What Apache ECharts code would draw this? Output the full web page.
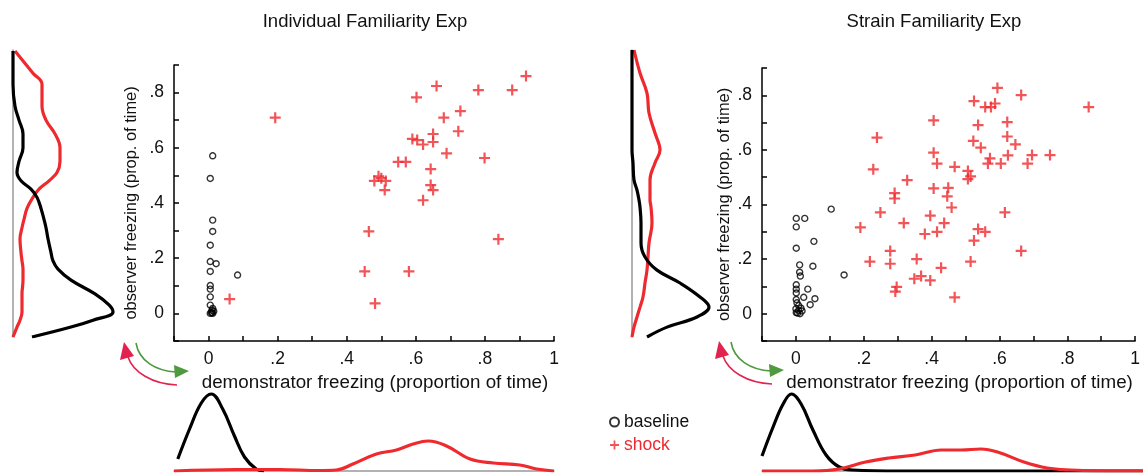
<!DOCTYPE html>
<html>
<head>
<meta charset="utf-8">
<script src="https://cdn.jsdelivr.net/npm/echarts@6/dist/echarts.min.js"></script>
<style>
html, body { margin: 0; padding: 0; background: #fff; }
#chart { width: 1143px; height: 473px; }
</style>
</head>
<body>
<div id="chart"></div>
<script>
// * scatter points
const leftBaseX = [0.012, 0.005, 0.012, 0.012, 0.005, 0.005, 0.022, 0.005, 0.084, 0.005, 0.005, 0.005, 0.005, 0.012, 0.01, 0.015, 0.008, 0.005, 0.012, 0.01];
const leftBaseY = [0.571, 0.489, 0.338, 0.297, 0.247, 0.188, 0.18, 0.152, 0.139, 0.101, 0.088, 0.06, 0.03, 0.018, 0.012, 0.008, 0.004, 0.0, 0.0, 0.002];
const leftShockX = [0.919, 0.66, 0.781, 0.879, 0.602, 0.193, 0.681, 0.729, 0.723, 0.65, 0.59, 0.604, 0.621, 0.65, 0.689, 0.799, 0.549, 0.571, 0.643, 0.492, 0.48, 0.513, 0.5, 0.51, 0.643, 0.65, 0.621, 0.464, 0.839, 0.452, 0.58, 0.061, 0.482];
const leftShockY = [0.86, 0.824, 0.809, 0.809, 0.783, 0.709, 0.709, 0.733, 0.66, 0.65, 0.632, 0.628, 0.612, 0.621, 0.58, 0.563, 0.549, 0.549, 0.523, 0.497, 0.48, 0.48, 0.49, 0.447, 0.465, 0.447, 0.41, 0.297, 0.269, 0.152, 0.152, 0.052, 0.036];

const rightBaseX = [0.001, 0.026, 0.001, 0.104, 0.053, 0.001, 0.05, 0.011, 0.011, 0.013, 0.142, 0.001, 0.001, 0.035, 0.001, 0.023, 0.056, 0.001, 0.042, 0.008, 0.0, 0.008, 0.018, 0.001, 0.012, 0.005, 0.015, 0.003];
const rightBaseY = [0.349, 0.349, 0.318, 0.383, 0.265, 0.24, 0.174, 0.179, 0.152, 0.138, 0.142, 0.106, 0.09, 0.09, 0.076, 0.06, 0.055, 0.052, 0.033, 0.03, 0.018, 0.012, 0.01, 0.004, 0.0, 0.002, 0.02, 0.04];
const rightShockX = [0.594, 0.664, 0.863, 0.525, 0.558, 0.575, 0.587, 0.406, 0.537, 0.623, 0.239, 0.523, 0.623, 0.647, 0.545, 0.406, 0.696, 0.749, 0.625, 0.572, 0.416, 0.566, 0.604, 0.683, 0.228, 0.468, 0.507, 0.328, 0.507, 0.515, 0.406, 0.449, 0.291, 0.291, 0.446, 0.459, 0.249, 0.616, 0.396, 0.318, 0.437, 0.19, 0.537, 0.558, 0.416, 0.38, 0.525, 0.278, 0.664, 0.218, 0.278, 0.356, 0.515, 0.428, 0.349, 0.369, 0.396, 0.297, 0.293, 0.468];
const rightShockY = [0.827, 0.801, 0.757, 0.779, 0.757, 0.757, 0.77, 0.708, 0.691, 0.702, 0.645, 0.633, 0.649, 0.62, 0.608, 0.59, 0.581, 0.581, 0.58, 0.569, 0.55, 0.55, 0.55, 0.55, 0.529, 0.538, 0.523, 0.489, 0.493, 0.503, 0.459, 0.461, 0.442, 0.422, 0.43, 0.389, 0.371, 0.371, 0.359, 0.332, 0.332, 0.316, 0.31, 0.3, 0.3, 0.292, 0.268, 0.23, 0.23, 0.191, 0.183, 0.2, 0.191, 0.168, 0.128, 0.138, 0.122, 0.098, 0.081, 0.06];

// * marginal densities (curve height in px)
const leftObsPos = [0.95, 0.87, 0.83, 0.75, 0.70, 0.65, 0.60, 0.55, 0.51, 0.48, 0.45, 0.42, 0.38, 0.34, 0.31, 0.27, 0.22, 0.19, 0.16, 0.12, 0.07, 0.03, 0.005, -0.025, -0.05, -0.086];
const leftObsBase = [0, 0, 0, 2, 6, 10, 10, 6, 4, 8, 18, 24, 28, 31, 33, 35, 38, 40, 45, 58, 82, 96, 100, 80, 58, 19];
const leftObsShock = [2, 20, 29, 29, 33, 42, 47, 47, 44, 36, 26, 20, 14, 11, 9, 7, 8, 9, 10, 10, 9, 9, 9, 7, 4, 0];

const rightObsPos = [0.967, 0.883, 0.81, 0.737, 0.664, 0.602, 0.555, 0.493, 0.456, 0.42, 0.394, 0.336, 0.263, 0.212, 0.164, 0.117, 0.066, 0.029, -0.007, -0.044, -0.08];
const rightObsBase = [0, 0, 0, 0, 0, 0, 1, 2, 5, 7, 8, 9, 9, 13, 25, 48, 68, 77, 65, 35, 15];
const rightObsShock = [2, 8, 15, 17, 23, 28, 23, 18, 18, 18, 19, 20, 17, 16, 15, 13, 11, 8, 5, 2, 0];

const leftDemBasePos = [-0.089, -0.055, -0.021, 0.008, 0.041, 0.075, 0.104, 0.138, 0.16];
const leftDemBase = [12, 42, 68, 77, 62, 35, 14, 2, 0];
const leftDemShockPos = [-0.1, 0.08, 0.206, 0.32, 0.37, 0.418, 0.486, 0.544, 0.592, 0.636, 0.689, 0.757, 0.824, 0.901, 0.95, 1.0];
const leftDemShock = [0, 1.5, 1.5, 0.5, 1, 7, 17, 21, 27, 30, 25, 12, 8, 6, 2, 0];

const rightDemBasePos = [-0.1, -0.068, -0.039, -0.015, 0.013, 0.047, 0.085, 0.123, 0.161, 0.3, 0.5, 0.7, 0.9, 1.0];
const rightDemBase = [15, 44, 67, 77, 67, 41, 16, 4, 1, 0, 0, 0, 0, 0];
const rightDemShockPos = [-0.1, 0.047, 0.123, 0.199, 0.266, 0.342, 0.418, 0.475, 0.532, 0.58, 0.656, 0.723, 0.79, 0.9, 1.0];
const rightDemShock = [0, 0, 2, 9, 13, 16, 21, 21, 22, 19, 9, 3, 1, 0, 0];

const titles = ['Individual Familiarity Exp', 'Strain Familiarity Exp'];

const RED = '#ee2a2e';
const FONT = 'Liberation Sans, Arial, sans-serif';
const PLUS = 'path://M4,0H6V4H10V6H6V10H4V6H0V4H4Z';

function zip(a, b) {
    return a.map((v, i) => [v, b[i]]);
}

function tickFmt(v) {
    let r = Math.round(v * 10);
    if (r < 0 || r % 2) return '';
    if (r === 0) return '0';
    if (r === 10) return '1';
    return '.' + r;
}

function scatterX(grid) {
    return {
        type: 'value', gridIndex: grid, min: -0.1, max: 1.0, interval: 0.1,
        axisLine: { show: true, onZero: false, lineStyle: { color: '#000', width: 1.5 } },
        axisTick: { show: true, inside: true, length: 5, lineStyle: { color: '#000', width: 1.5 } },
        axisLabel: { formatter: tickFmt, fontSize: 17.5, color: '#111', fontFamily: FONT, margin: 9 },
        splitLine: { show: false },
        name: 'demonstrator freezing (proportion of time)',
        nameLocation: 'middle', nameGap: 27,
        nameTextStyle: { fontSize: 18.8, color: '#111', fontFamily: FONT, padding: [0, 0, 0, 22] }
    };
}

function scatterY(grid, gap) {
    return {
        type: 'value', gridIndex: grid, min: -0.1, max: 0.9, interval: 0.1,
        axisLine: { show: true, onZero: false, lineStyle: { color: '#000', width: 1.5 } },
        axisTick: { show: true, inside: true, length: 5, lineStyle: { color: '#000', width: 1.5 } },
        axisLabel: { formatter: tickFmt, fontSize: 17.5, color: '#111', fontFamily: FONT, margin: 10 },
        splitLine: { show: false },
        name: 'observer freezing (prop. of time)',
        nameLocation: 'middle', nameGap: gap,
        nameTextStyle: { fontSize: 16.4, color: '#111', fontFamily: FONT }
    };
}

function plainAxis(grid, min, max, showLine) {
    return {
        type: 'value', gridIndex: grid, min: min, max: max,
        axisLine: { show: showLine, onZero: false, lineStyle: { color: '#999', width: 1.5 } },
        axisTick: { show: false }, axisLabel: { show: false }, splitLine: { show: false }
    };
}

function curve(name, color, xi, data) {
    return {
        name: name, type: 'line', xAxisIndex: xi, yAxisIndex: xi, data: data,
        smooth: 0.4, showSymbol: false, silent: true, legendHoverLink: false,
        lineStyle: { color: color, width: 3.2 }, itemStyle: { color: color }
    };
}

function arrows(dx, dy) {
    return [
        {
            type: 'bezierCurve', silent: true,
            shape: { x1: 136 + dx, y1: 343 + dy, cpx1: 139 + dx, cpy1: 361 + dy, cpx2: 156 + dx, cpy2: 371 + dy, x2: 176 + dx, y2: 372 + dy },
            style: { stroke: '#4f9a3e', lineWidth: 1.6, fill: null }
        },
        { type: 'polygon', silent: true, shape: { points: [[189 + dx, 371 + dy], [174 + dx, 365 + dy], [175 + dx, 378 + dy]] }, style: { fill: '#4f9a3e' } },
        {
            type: 'bezierCurve', silent: true,
            shape: { x1: 177 + dx, y1: 385 + dy, cpx1: 152 + dx, cpy1: 384 + dy, cpx2: 133 + dx, cpy2: 372 + dy, x2: 128 + dx, y2: 357 + dy },
            style: { stroke: '#e2234f', lineWidth: 1.6, fill: null }
        },
        { type: 'polygon', silent: true, shape: { points: [[124 + dx, 342 + dy], [120 + dx, 360 + dy], [134 + dx, 356 + dy]] }, style: { fill: '#e2234f' } }
    ];
}

let option = {
    animation: false,
    grid: [
        { left: 174, width: 380, top: 65, height: 276 },
        { left: 762, width: 385, top: 68, height: 273 },
        { left: 13, width: 100, top: 50, height: 287 },
        { left: 632, width: 100, top: 50, height: 287 },
        { left: 174, width: 380, top: 391, height: 80 },
        { left: 762, width: 385, top: 391, height: 80 }
    ],
    xAxis: [
        scatterX(0), scatterX(1),
        plainAxis(2, 0, 100, false), plainAxis(3, 0, 100, false),
        plainAxis(4, -0.1, 1.0, true), plainAxis(5, -0.1, 1.0, true)
    ],
    yAxis: [
        scatterY(0, 35), scatterY(1, 30),
        plainAxis(2, -0.086, 0.954, true), plainAxis(3, -0.08, 0.967, true),
        plainAxis(4, 0, 80, false), plainAxis(5, 0, 80, false)
    ],
    legend: {
        orient: 'vertical', left: 604, top: 408, itemWidth: 9, itemHeight: 9, itemGap: 5,
        selectedMode: false,
        textStyle: { fontSize: 17.5, color: '#111', fontFamily: FONT },
        data: [{ name: 'baseline' }, { name: 'shock', textStyle: { color: RED } }]
    },
    graphic: [
        { type: 'text', silent: true, style: { text: titles[0], x: 365, y: 22, textAlign: 'center', textVerticalAlign: 'middle', font: '18.5px ' + FONT, fill: '#111' } },
        { type: 'text', silent: true, style: { text: titles[1], x: 934, y: 22, textAlign: 'center', textVerticalAlign: 'middle', font: '18.5px ' + FONT, fill: '#111' } }
    ].concat(arrows(0, 0), arrows(595, -1)),
    series: [
        curve('obsL', RED, 2, zip(leftObsShock, leftObsPos)),
        curve('obsL0', '#000', 2, zip(leftObsBase, leftObsPos)),
        curve('obsR', RED, 3, zip(rightObsShock, rightObsPos)),
        curve('obsR0', '#000', 3, zip(rightObsBase, rightObsPos)),
        curve('demL0', '#000', 4, zip(leftDemBasePos, leftDemBase)),
        curve('demL', RED, 4, zip(leftDemShockPos, leftDemShock)),
        curve('demR0', '#000', 5, zip(rightDemBasePos, rightDemBase)),
        curve('demR', RED, 5, zip(rightDemShockPos, rightDemShock)),
        {
            name: 'baseline', type: 'scatter', xAxisIndex: 0, yAxisIndex: 0,
            data: zip(leftBaseX, leftBaseY), symbol: 'circle', symbolSize: 6,
            itemStyle: { color: 'rgba(255,255,255,0)', borderColor: '#000', borderWidth: 1.4 }
        },
        {
            name: 'shock', type: 'scatter', xAxisIndex: 0, yAxisIndex: 0,
            data: zip(leftShockX, leftShockY), symbol: PLUS, symbolSize: 11,
            itemStyle: { color: RED }
        },
        {
            name: 'baseline', type: 'scatter', xAxisIndex: 1, yAxisIndex: 1,
            data: zip(rightBaseX, rightBaseY), symbol: 'circle', symbolSize: 6,
            itemStyle: { color: 'rgba(255,255,255,0)', borderColor: '#000', borderWidth: 1.4 }
        },
        {
            name: 'shock', type: 'scatter', xAxisIndex: 1, yAxisIndex: 1,
            data: zip(rightShockX, rightShockY), symbol: PLUS, symbolSize: 11,
            itemStyle: { color: RED }
        }
    ]
};

let chart = echarts.init(document.getElementById('chart'));
chart.setOption(option);
</script>
</body>
</html>
